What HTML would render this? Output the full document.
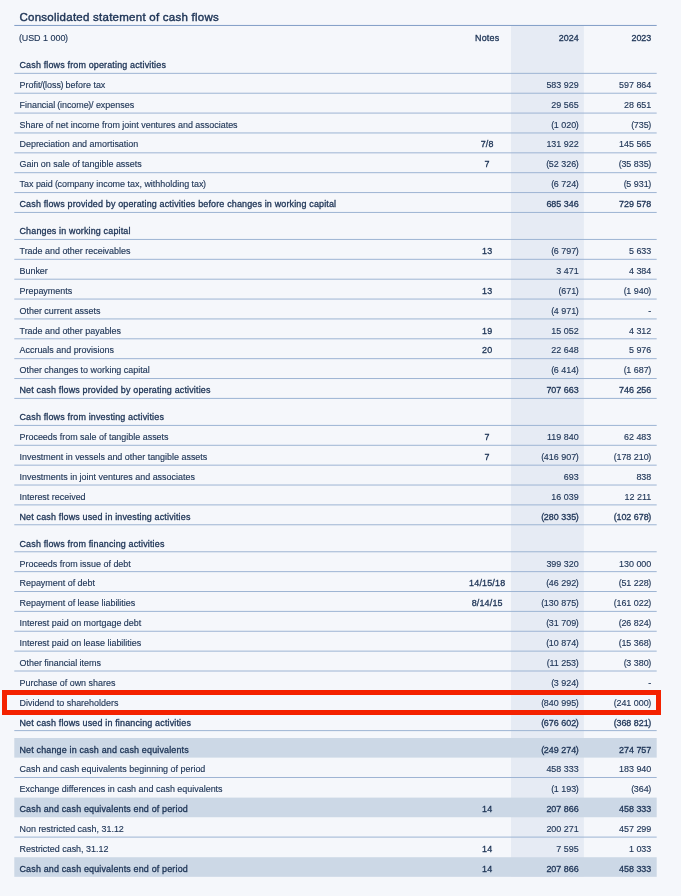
<!DOCTYPE html>
<html><head><meta charset="utf-8"><title>Consolidated statement of cash flows</title>
<style>
html,body{margin:0;padding:0;background:#f5f7fb;}
body{width:681px;height:896px;overflow:hidden;}
svg{display:block;}
text{stroke:#1c3355;stroke-width:0.14px;font-family:"Liberation Sans",sans-serif;fill:#1c3355;font-size:8.95px;white-space:pre;}
.b{font-size:8.95px;stroke:#1c3355;stroke-width:0.3px;letter-spacing:0.165px;paint-order:stroke;}
.n{text-anchor:middle;}
.bn{stroke-width:0.3px;paint-order:stroke;}
.nt{letter-spacing:0.18px;}
.e{text-anchor:end;}
.p{letter-spacing:-0.4px;}
.title{font-size:11.5px;stroke:#1c3355;stroke-width:0.4px;letter-spacing:0.25px;}
.ln{stroke:#9db4d3;stroke-width:1.0;}
</style></head><body>
<svg width="681" height="896" viewBox="0 0 681 896">
<rect x="0" y="0" width="681" height="896" fill="#f5f7fb"/>

<rect x="511.0" y="25.4" width="72.90" height="851.44" fill="#e6ebf4"/>
<line x1="14.3" x2="656.7" y1="25.45" y2="25.45" stroke="#809dc6" stroke-width="1"/>
<line class="ln" x1="14.3" x2="656.7" y1="73.35" y2="73.35"/>
<line class="ln" x1="14.3" x2="656.7" y1="93.22" y2="93.22"/>
<line class="ln" x1="14.3" x2="656.7" y1="113.09" y2="113.09"/>
<line class="ln" x1="14.3" x2="656.7" y1="132.96" y2="132.96"/>
<line class="ln" x1="14.3" x2="656.7" y1="152.83" y2="152.83"/>
<line class="ln" x1="14.3" x2="656.7" y1="172.70" y2="172.70"/>
<line class="ln" x1="14.3" x2="656.7" y1="192.57" y2="192.57"/>
<line class="ln" x1="14.3" x2="656.7" y1="212.44" y2="212.44"/>
<line class="ln" x1="14.3" x2="656.7" y1="239.45" y2="239.45"/>
<line class="ln" x1="14.3" x2="656.7" y1="259.32" y2="259.32"/>
<line class="ln" x1="14.3" x2="656.7" y1="279.19" y2="279.19"/>
<line class="ln" x1="14.3" x2="656.7" y1="299.06" y2="299.06"/>
<line class="ln" x1="14.3" x2="656.7" y1="318.93" y2="318.93"/>
<line class="ln" x1="14.3" x2="656.7" y1="338.80" y2="338.80"/>
<line class="ln" x1="14.3" x2="656.7" y1="358.67" y2="358.67"/>
<line class="ln" x1="14.3" x2="656.7" y1="378.54" y2="378.54"/>
<line class="ln" x1="14.3" x2="656.7" y1="398.41" y2="398.41"/>
<line class="ln" x1="14.3" x2="656.7" y1="425.42" y2="425.42"/>
<line class="ln" x1="14.3" x2="656.7" y1="445.29" y2="445.29"/>
<line class="ln" x1="14.3" x2="656.7" y1="465.16" y2="465.16"/>
<line class="ln" x1="14.3" x2="656.7" y1="485.03" y2="485.03"/>
<line class="ln" x1="14.3" x2="656.7" y1="504.90" y2="504.90"/>
<line class="ln" x1="14.3" x2="656.7" y1="524.77" y2="524.77"/>
<line class="ln" x1="14.3" x2="656.7" y1="551.78" y2="551.78"/>
<line class="ln" x1="14.3" x2="656.7" y1="571.65" y2="571.65"/>
<line class="ln" x1="14.3" x2="656.7" y1="591.52" y2="591.52"/>
<line class="ln" x1="14.3" x2="656.7" y1="611.39" y2="611.39"/>
<line class="ln" x1="14.3" x2="656.7" y1="631.26" y2="631.26"/>
<line class="ln" x1="14.3" x2="656.7" y1="651.13" y2="651.13"/>
<line class="ln" x1="14.3" x2="656.7" y1="671.00" y2="671.00"/>
<line class="ln" x1="14.3" x2="656.7" y1="690.87" y2="690.87"/>
<line class="ln" x1="14.3" x2="656.7" y1="710.74" y2="710.74"/>
<line class="ln" x1="14.3" x2="656.7" y1="730.61" y2="730.61"/>
<line class="ln" x1="14.3" x2="656.7" y1="777.49" y2="777.49"/>
<line class="ln" x1="14.3" x2="656.7" y1="837.10" y2="837.10"/>
<rect x="14.3" y="738.00" width="642.40" height="19.62" fill="#ccd8e6"/>
<rect x="14.3" y="797.61" width="642.40" height="19.62" fill="#ccd8e6"/>
<rect x="14.3" y="857.22" width="642.40" height="19.62" fill="#ccd8e6"/>
<text class="title" x="19.5" y="20.8">Consolidated statement of cash flows</text>
<text class="l" x="19.5" y="40.80"><tspan class="p" dx="-0.4">(</tspan>USD 1 000<tspan class="p" dx="-0.4">)</tspan></text><text class="n bn nt" x="487.2" y="40.80">Notes</text><text class="e bn" x="578.7" y="40.80">2024</text><text class="e bn" x="651.3" y="40.80">2023</text>
<text class="l b" x="19.5" y="68.00">Cash flows from operating activities</text>
<text class="l" x="19.5" y="88.00">Profit/<tspan class="p" dx="-0.4">(</tspan>loss<tspan class="p" dx="-0.4">)</tspan> before tax</text><text class="e" x="578.7" y="88.00">583 929</text><text class="e" x="651.3" y="88.00">597 864</text>
<text class="l" x="19.5" y="108.00">Financial <tspan class="p" dx="-0.4">(</tspan>income<tspan class="p" dx="-0.4">)</tspan>/ expenses</text><text class="e" x="578.7" y="108.00">29 565</text><text class="e" x="651.3" y="108.00">28 651</text>
<text class="l" x="19.5" y="128.00">Share of net income from joint ventures and associates</text><text class="e" x="578.7" y="128.00"><tspan class="p" dx="-0.4">(</tspan>1 020<tspan class="p" dx="-0.4">)</tspan></text><text class="e" x="651.3" y="128.00"><tspan class="p" dx="-0.4">(</tspan>735<tspan class="p" dx="-0.4">)</tspan></text>
<text class="l" x="19.5" y="147.00">Depreciation and amortisation</text><text class="n bn nt" x="487.2" y="147.00">7/8</text><text class="e" x="578.7" y="147.00">131 922</text><text class="e" x="651.3" y="147.00">145 565</text>
<text class="l" x="19.5" y="167.00">Gain on sale of tangible assets</text><text class="n bn nt" x="487.2" y="167.00">7</text><text class="e" x="578.7" y="167.00"><tspan class="p" dx="-0.4">(</tspan>52 326<tspan class="p" dx="-0.4">)</tspan></text><text class="e" x="651.3" y="167.00"><tspan class="p" dx="-0.4">(</tspan>35 835<tspan class="p" dx="-0.4">)</tspan></text>
<text class="l" x="19.5" y="187.00">Tax paid <tspan class="p" dx="-0.4">(</tspan>company income tax, withholding tax<tspan class="p" dx="-0.4">)</tspan></text><text class="e" x="578.7" y="187.00"><tspan class="p" dx="-0.4">(</tspan>6 724<tspan class="p" dx="-0.4">)</tspan></text><text class="e" x="651.3" y="187.00"><tspan class="p" dx="-0.4">(</tspan>5 931<tspan class="p" dx="-0.4">)</tspan></text>
<text class="l b" x="19.5" y="207.00">Cash flows provided by operating activities before changes in working capital</text><text class="e bn" x="578.7" y="207.00">685 346</text><text class="e bn" x="651.3" y="207.00">729 578</text>
<text class="l b" x="19.5" y="234.00">Changes in working capital</text>
<text class="l" x="19.5" y="254.00">Trade and other receivables</text><text class="n bn nt" x="487.2" y="254.00">13</text><text class="e" x="578.7" y="254.00"><tspan class="p" dx="-0.4">(</tspan>6 797<tspan class="p" dx="-0.4">)</tspan></text><text class="e" x="651.3" y="254.00">5 633</text>
<text class="l" x="19.5" y="274.00">Bunker</text><text class="e" x="578.7" y="274.00">3 471</text><text class="e" x="651.3" y="274.00">4 384</text>
<text class="l" x="19.5" y="294.00">Prepayments</text><text class="n bn nt" x="487.2" y="294.00">13</text><text class="e" x="578.7" y="294.00"><tspan class="p" dx="-0.4">(</tspan>671<tspan class="p" dx="-0.4">)</tspan></text><text class="e" x="651.3" y="294.00"><tspan class="p" dx="-0.4">(</tspan>1 940<tspan class="p" dx="-0.4">)</tspan></text>
<text class="l" x="19.5" y="314.00">Other current assets</text><text class="e" x="578.7" y="314.00"><tspan class="p" dx="-0.4">(</tspan>4 971<tspan class="p" dx="-0.4">)</tspan></text><text class="e" x="651.3" y="314.00">-</text>
<text class="l" x="19.5" y="334.00">Trade and other payables</text><text class="n bn nt" x="487.2" y="334.00">19</text><text class="e" x="578.7" y="334.00">15 052</text><text class="e" x="651.3" y="334.00">4 312</text>
<text class="l" x="19.5" y="353.00">Accruals and provisions</text><text class="n bn nt" x="487.2" y="353.00">20</text><text class="e" x="578.7" y="353.00">22 648</text><text class="e" x="651.3" y="353.00">5 976</text>
<text class="l" x="19.5" y="373.00">Other changes to working capital</text><text class="e" x="578.7" y="373.00"><tspan class="p" dx="-0.4">(</tspan>6 414<tspan class="p" dx="-0.4">)</tspan></text><text class="e" x="651.3" y="373.00"><tspan class="p" dx="-0.4">(</tspan>1 687<tspan class="p" dx="-0.4">)</tspan></text>
<text class="l b" x="19.5" y="393.00">Net cash flows provided by operating activities</text><text class="e bn" x="578.7" y="393.00">707 663</text><text class="e bn" x="651.3" y="393.00">746 256</text>
<text class="l b" x="19.5" y="420.00">Cash flows from investing activities</text>
<text class="l" x="19.5" y="440.00">Proceeds from sale of tangible assets</text><text class="n bn nt" x="487.2" y="440.00">7</text><text class="e" x="578.7" y="440.00">119 840</text><text class="e" x="651.3" y="440.00">62 483</text>
<text class="l" x="19.5" y="460.00">Investment in vessels and other tangible assets</text><text class="n bn nt" x="487.2" y="460.00">7</text><text class="e" x="578.7" y="460.00"><tspan class="p" dx="-0.4">(</tspan>416 907<tspan class="p" dx="-0.4">)</tspan></text><text class="e" x="651.3" y="460.00"><tspan class="p" dx="-0.4">(</tspan>178 210<tspan class="p" dx="-0.4">)</tspan></text>
<text class="l" x="19.5" y="480.00">Investments in joint ventures and associates</text><text class="e" x="578.7" y="480.00">693</text><text class="e" x="651.3" y="480.00">838</text>
<text class="l" x="19.5" y="500.00">Interest received</text><text class="e" x="578.7" y="500.00">16 039</text><text class="e" x="651.3" y="500.00">12 211</text>
<text class="l b" x="19.5" y="520.00">Net cash flows used in investing activities</text><text class="e bn" x="578.7" y="520.00"><tspan class="p" dx="-0.4">(</tspan>280 335<tspan class="p" dx="-0.4">)</tspan></text><text class="e bn" x="651.3" y="520.00"><tspan class="p" dx="-0.4">(</tspan>102 678<tspan class="p" dx="-0.4">)</tspan></text>
<text class="l b" x="19.5" y="547.00">Cash flows from financing activities</text>
<text class="l" x="19.5" y="567.00">Proceeds from issue of debt</text><text class="e" x="578.7" y="567.00">399 320</text><text class="e" x="651.3" y="567.00">130 000</text>
<text class="l" x="19.5" y="586.00">Repayment of debt</text><text class="n bn nt" x="487.2" y="586.00">14/15/18</text><text class="e" x="578.7" y="586.00"><tspan class="p" dx="-0.4">(</tspan>46 292<tspan class="p" dx="-0.4">)</tspan></text><text class="e" x="651.3" y="586.00"><tspan class="p" dx="-0.4">(</tspan>51 228<tspan class="p" dx="-0.4">)</tspan></text>
<text class="l" x="19.5" y="606.00">Repayment of lease liabilities</text><text class="n bn nt" x="487.2" y="606.00">8/14/15</text><text class="e" x="578.7" y="606.00"><tspan class="p" dx="-0.4">(</tspan>130 875<tspan class="p" dx="-0.4">)</tspan></text><text class="e" x="651.3" y="606.00"><tspan class="p" dx="-0.4">(</tspan>161 022<tspan class="p" dx="-0.4">)</tspan></text>
<text class="l" x="19.5" y="626.00">Interest paid on mortgage debt</text><text class="e" x="578.7" y="626.00"><tspan class="p" dx="-0.4">(</tspan>31 709<tspan class="p" dx="-0.4">)</tspan></text><text class="e" x="651.3" y="626.00"><tspan class="p" dx="-0.4">(</tspan>26 824<tspan class="p" dx="-0.4">)</tspan></text>
<text class="l" x="19.5" y="646.00">Interest paid on lease liabilities</text><text class="e" x="578.7" y="646.00"><tspan class="p" dx="-0.4">(</tspan>10 874<tspan class="p" dx="-0.4">)</tspan></text><text class="e" x="651.3" y="646.00"><tspan class="p" dx="-0.4">(</tspan>15 368<tspan class="p" dx="-0.4">)</tspan></text>
<text class="l" x="19.5" y="666.00">Other financial items</text><text class="e" x="578.7" y="666.00"><tspan class="p" dx="-0.4">(</tspan>11 253<tspan class="p" dx="-0.4">)</tspan></text><text class="e" x="651.3" y="666.00"><tspan class="p" dx="-0.4">(</tspan>3 380<tspan class="p" dx="-0.4">)</tspan></text>
<text class="l" x="19.5" y="686.00">Purchase of own shares</text><text class="e" x="578.7" y="686.00"><tspan class="p" dx="-0.4">(</tspan>3 924<tspan class="p" dx="-0.4">)</tspan></text><text class="e" x="651.3" y="686.00">-</text>
<text class="l" x="19.5" y="706.00">Dividend to shareholders</text><text class="e" x="578.7" y="706.00"><tspan class="p" dx="-0.4">(</tspan>840 995<tspan class="p" dx="-0.4">)</tspan></text><text class="e" x="651.3" y="706.00"><tspan class="p" dx="-0.4">(</tspan>241 000<tspan class="p" dx="-0.4">)</tspan></text>
<text class="l b" x="19.5" y="726.00">Net cash flows used in financing activities</text><text class="e bn" x="578.7" y="726.00"><tspan class="p" dx="-0.4">(</tspan>676 602<tspan class="p" dx="-0.4">)</tspan></text><text class="e bn" x="651.3" y="726.00"><tspan class="p" dx="-0.4">(</tspan>368 821<tspan class="p" dx="-0.4">)</tspan></text>
<text class="l b" x="19.5" y="753.00">Net change in cash and cash equivalents</text><text class="e bn" x="578.7" y="753.00"><tspan class="p" dx="-0.4">(</tspan>249 274<tspan class="p" dx="-0.4">)</tspan></text><text class="e bn" x="651.3" y="753.00">274 757</text>
<text class="l" x="19.5" y="772.00">Cash and cash equivalents beginning of period</text><text class="e" x="578.7" y="772.00">458 333</text><text class="e" x="651.3" y="772.00">183 940</text>
<text class="l" x="19.5" y="792.00">Exchange differences in cash and cash equivalents</text><text class="e" x="578.7" y="792.00"><tspan class="p" dx="-0.4">(</tspan>1 193<tspan class="p" dx="-0.4">)</tspan></text><text class="e" x="651.3" y="792.00"><tspan class="p" dx="-0.4">(</tspan>364<tspan class="p" dx="-0.4">)</tspan></text>
<text class="l b" x="19.5" y="812.00">Cash and cash equivalents end of period</text><text class="n bn nt" x="487.2" y="812.00">14</text><text class="e bn" x="578.7" y="812.00">207 866</text><text class="e bn" x="651.3" y="812.00">458 333</text>
<text class="l" x="19.5" y="832.00">Non restricted cash, 31.12</text><text class="e" x="578.7" y="832.00">200 271</text><text class="e" x="651.3" y="832.00">457 299</text>
<text class="l" x="19.5" y="852.00">Restricted cash, 31.12</text><text class="n bn nt" x="487.2" y="852.00">14</text><text class="e" x="578.7" y="852.00">7 595</text><text class="e" x="651.3" y="852.00">1 033</text>
<text class="l b" x="19.5" y="872.00">Cash and cash equivalents end of period</text><text class="n bn nt" x="487.2" y="872.00">14</text><text class="e bn" x="578.7" y="872.00">207 866</text><text class="e bn" x="651.3" y="872.00">458 333</text>
<rect x="4.5" y="692.5" width="654" height="20" fill="none" stroke="#f42200" stroke-width="5"/>
</svg>
</body></html>
